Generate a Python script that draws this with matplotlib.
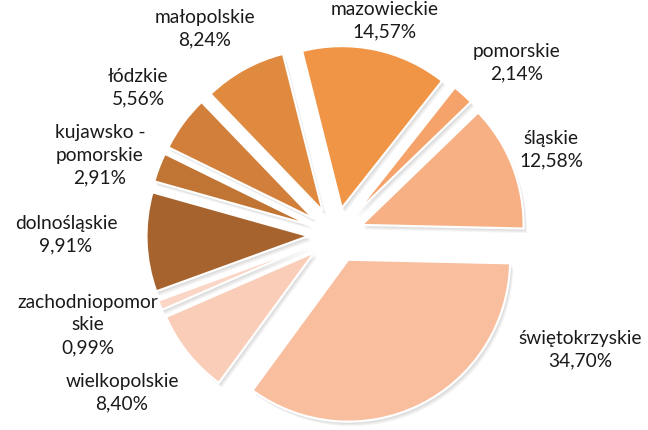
import matplotlib
matplotlib.use('Agg')
import matplotlib.pyplot as plt

# --- Data (shares by voivodeship, %) ---
regions = ['dolnośląskie', 'kujawsko -\npomorskie', 'łódzkie', 'małopolskie',
           'mazowieckie', 'pomorskie', 'śląskie', 'świętokrzyskie',
           'wielkopolskie', 'zachodniopomor\nskie']
shares = [9.91, 2.91, 5.56, 8.24, 14.57, 2.14, 12.58, 34.70, 8.40, 0.99]

# --- Style ---
COLORS = ['#A6632E', '#C07535', '#D17F3B', '#E08A40', '#F09445',
          '#F5A36A', '#F7B083', '#F8BE9E', '#FACDB8', '#FBD5C5']
EXPLODE = 0.17
START = 200          # dolnośląskie starts just below 9 o'clock, clockwise
TEXT_COLOR = '#1a1a1a'

# label anchors (data units, pie radius = 1)
LABEL_POS = [(-1.667, 0.006), (-1.457, 0.500), (-1.222, 0.914), (-0.809, 1.278),
             (0.302, 1.327), (1.117, 1.068), (1.327, 0.531), (1.506, -0.704),
             (-1.321, -0.969), (-1.531, -0.549)]

plt.rcParams['font.family'] = ['Lato', 'DejaVu Sans']

fig = plt.figure(figsize=(6.48, 4.31), dpi=100)
ax = fig.add_axes([0, 0, 1, 1])

explode = [EXPLODE] * len(shares)

# soft shadow under the wedges
for k in range(1, 5):
    ax.pie(shares, explode=explode, startangle=START, counterclock=False,
           colors=['black'] * len(shares), center=(0.005 * k, -0.007 * k),
           wedgeprops=dict(linewidth=0, alpha=0.045))

wedges, _ = ax.pie(shares, explode=explode, startangle=START, counterclock=False,
                   colors=COLORS,
                   wedgeprops=dict(edgecolor='white', linewidth=1.6))

for name, val, (x, y) in zip(regions, shares, LABEL_POS):
    txt = f"{name}\n{val:.2f}%".replace('.', ',')
    ax.text(x, y, txt, ha='center', va='center', fontsize=13.8,
            color=TEXT_COLOR, linespacing=1.4)

ax.set_xlim(-2.074, 1.926)
ax.set_ylim(-1.204, 1.457)
ax.set_aspect('auto')
ax.axis('off')

fig.savefig('out.png', dpi=100)
